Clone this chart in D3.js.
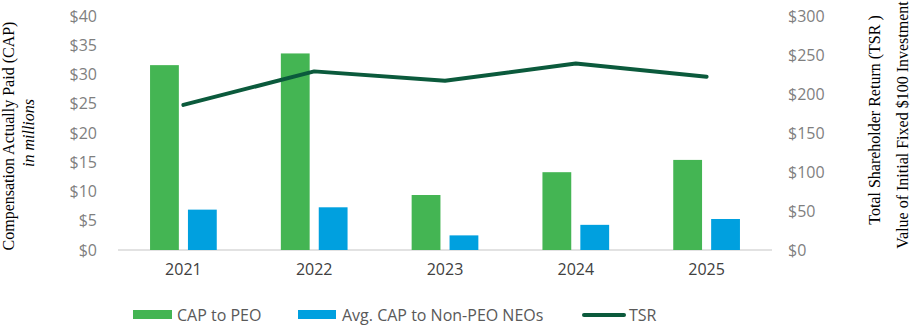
<!DOCTYPE html>
<html>
<head>
<meta charset="utf-8">
<script src="https://cdn.jsdelivr.net/npm/d3@7"></script>
<style>
  html, body { margin: 0; padding: 0; background: #fff; }
  svg { display: block; }
</style>
</head>
<body>
<svg id="chart"></svg>
<script>
// CAP vs TSR combo chart
const years = ["2021", "2022", "2023", "2024", "2025"];
const capPeo = [31.6, 33.6, 9.4, 13.3, 15.4];
const capNeo = [6.9, 7.3, 2.5, 4.3, 5.3];
const tsr = [186, 229, 217, 239, 222];
const leftTicks = [0, 5, 10, 15, 20, 25, 30, 35, 40];
const rightTicks = [0, 50, 100, 150, 200, 250, 300];
const seriesKeys = ["peo", "neo"];
const seriesNames = ["CAP to PEO", "Avg. CAP to Non-PEO NEOs", "TSR"];

const width = 914, height = 326;
const colors = { peo: "#44b553", neo: "#00a0df", tsr: "#0b5a3c" };
const sansFont = "'Open Sans', sans-serif";
const serifFont = "'Liberation Serif', 'Times New Roman', serif";

const svg = d3.select("#chart")
    .attr("width", width)
    .attr("height", height);

const plot = { left: 118, right: 772, top: 16, bottom: 250 };

const x0 = d3.scaleBand()
    .domain(years)
    .range([plot.left, plot.right])
    .paddingInner(0.49)
    .paddingOuter(0.245);

const x1 = d3.scaleBand()
    .domain(seriesKeys)
    .range([0, x0.bandwidth()])
    .paddingInner(0.24);

const yLeft = d3.scaleLinear().domain([0, 40]).range([plot.bottom, plot.top]);
const yRight = d3.scaleLinear().domain([0, 300]).range([plot.bottom, plot.top]);

// baseline
svg.append("line")
    .attr("x1", plot.left).attr("x2", plot.right)
    .attr("y1", yLeft(0)).attr("y2", yLeft(0))
    .attr("stroke", "#d9d9d9")
    .attr("stroke-width", 1.5);

// bars
const rows = years.map((y, i) => ({ year: y, peo: capPeo[i], neo: capNeo[i] }));

const groups = svg.append("g").selectAll("g")
    .data(rows)
    .join("g")
    .attr("transform", d => `translate(${x0(d.year)},0)`);

groups.selectAll("rect")
    .data(d => seriesKeys.map(k => ({ key: k, value: d[k] })))
    .join("rect")
    .attr("x", d => x1(d.key))
    .attr("width", x1.bandwidth())
    .attr("y", d => yLeft(d.value))
    .attr("height", d => yLeft(0) - yLeft(d.value))
    .attr("fill", d => colors[d.key]);

// TSR line
const line = d3.line()
    .x((d, i) => x0(years[i]) + x0.bandwidth() / 2)
    .y(d => yRight(d));

svg.append("path")
    .datum(tsr)
    .attr("d", line)
    .attr("fill", "none")
    .attr("stroke", colors.tsr)
    .attr("stroke-width", 4)
    .attr("stroke-linecap", "round")
    .attr("stroke-linejoin", "round");

// left axis
const leftAxis = d3.axisLeft(yLeft)
    .tickValues(leftTicks)
    .tickFormat(d => "$" + d)
    .tickSize(0)
    .tickPadding(0);

svg.append("g")
    .attr("transform", "translate(97,0)")
    .call(leftAxis)
    .call(g => g.select(".domain").remove())
    .selectAll("text")
    .attr("font-family", sansFont)
    .attr("font-size", 16)
    .attr("fill", "#7f7f7f");

// right axis
const rightAxis = d3.axisRight(yRight)
    .tickValues(rightTicks)
    .tickFormat(d => "$" + d)
    .tickSize(0)
    .tickPadding(0);

svg.append("g")
    .attr("transform", "translate(788,0)")
    .call(rightAxis)
    .call(g => g.select(".domain").remove())
    .selectAll("text")
    .attr("font-family", sansFont)
    .attr("font-size", 16)
    .attr("fill", "#7f7f7f");

// year labels
const bottomAxis = d3.axisBottom(x0).tickSize(0).tickPadding(0);
svg.append("g")
    .attr("transform", "translate(0,264)")
    .call(bottomAxis)
    .call(g => g.select(".domain").remove())
    .selectAll("text")
    .attr("font-family", sansFont)
    .attr("font-size", 16)
    .attr("fill", "#404040");

// axis titles
svg.append("text")
    .attr("transform", "translate(14,136) rotate(-90)")
    .attr("text-anchor", "middle")
    .attr("font-family", serifFont)
    .attr("font-size", 16)
    .attr("fill", "#000")
    .text("Compensation Actually Paid (CAP)");

svg.append("text")
    .attr("transform", "translate(34,133) rotate(-90)")
    .attr("text-anchor", "middle")
    .attr("font-family", serifFont)
    .attr("font-style", "italic")
    .attr("font-size", 16)
    .attr("fill", "#000")
    .text("in millions");

svg.append("text")
    .attr("transform", "translate(880,120) rotate(-90)")
    .attr("text-anchor", "middle")
    .attr("font-family", serifFont)
    .attr("font-size", 16)
    .attr("fill", "#000")
    .text("Total Shareholder Return (TSR )");

svg.append("text")
    .attr("transform", "translate(908,125) rotate(-90)")
    .attr("text-anchor", "middle")
    .attr("font-family", serifFont)
    .attr("font-size", 16)
    .attr("fill", "#000")
    .text("Value of Initial Fixed $100 Investment");

// legend
const legend = svg.append("g").attr("font-family", sansFont).attr("font-size", 16).attr("fill", "#595959");
const legendY = 315;

legend.append("rect").attr("x", 133).attr("y", legendY - 5).attr("width", 39).attr("height", 9).attr("fill", colors.peo);
legend.append("text").attr("x", 177).attr("y", legendY).attr("dy", "0.35em").text(seriesNames[0]);

legend.append("rect").attr("x", 298).attr("y", legendY - 5).attr("width", 38).attr("height", 9).attr("fill", colors.neo);
legend.append("text").attr("x", 342).attr("y", legendY).attr("dy", "0.35em").text(seriesNames[1]);

legend.append("line").attr("x1", 584).attr("x2", 624).attr("y1", legendY).attr("y2", legendY)
    .attr("stroke", colors.tsr).attr("stroke-width", 4).attr("stroke-linecap", "round");
legend.append("text").attr("x", 629).attr("y", legendY).attr("dy", "0.35em").text(seriesNames[2]);
</script>
</body>
</html>
